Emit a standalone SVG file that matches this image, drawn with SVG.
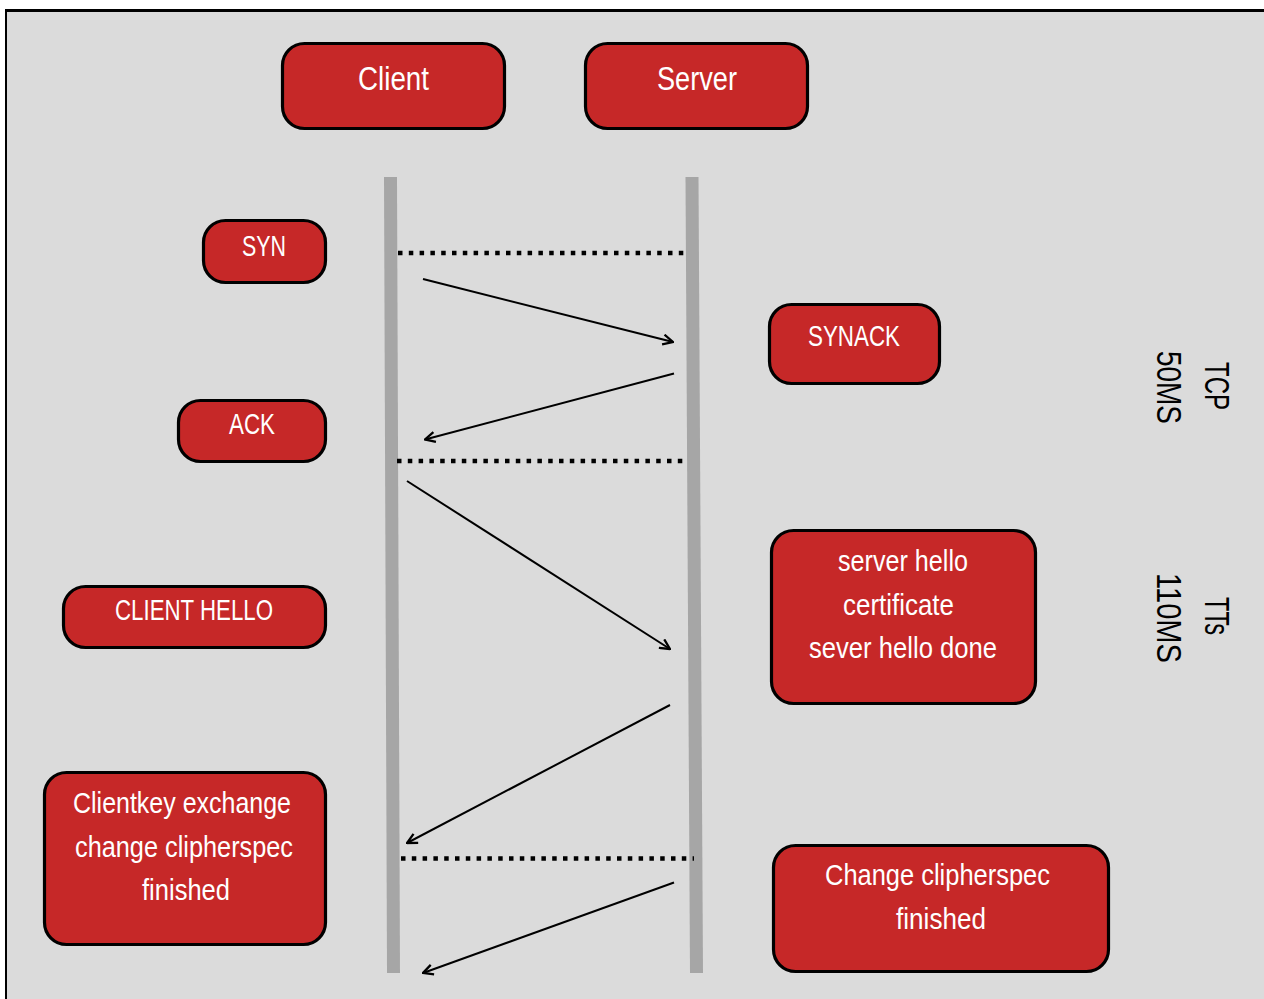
<svg xmlns="http://www.w3.org/2000/svg" width="1264" height="999" viewBox="0 0 1264 999">
<defs>
<style>
.node{fill:#c62828;stroke:#000;stroke-width:3.2}
.t{fill:#fff;font-family:"Liberation Sans Narrow","Liberation Sans",Arial,sans-serif;text-anchor:middle}
.side{fill:#000;font-family:"Liberation Sans Narrow","Liberation Sans",Arial,sans-serif;text-anchor:middle;font-size:35px}
.life{stroke:#a6a6a6;stroke-width:13;fill:none}
.dot{stroke:#000;stroke-width:4.5;stroke-dasharray:4.5 6.3;fill:none}
.msg{stroke:#000;stroke-width:2;fill:none;marker-end:url(#ah)}
</style>
<marker id="ah" viewBox="0 0 12 12" refX="11" refY="6" markerWidth="12" markerHeight="12" markerUnits="userSpaceOnUse" orient="auto">
<path d="M1,1 L11,6 L1,11" fill="none" stroke="#000" stroke-width="2.3"/>
</marker>
</defs>
<rect x="6" y="10" width="1258" height="989" fill="#dbdbdb"/>
<path d="M6,999 V10" stroke="#000" stroke-width="2" fill="none"/>
<path d="M5,10.5 H1264" stroke="#000" stroke-width="3" fill="none"/>

<g id="lifelines">
<line class="life" x1="390.5" y1="177" x2="393.5" y2="973"/>
<line class="life" x1="692" y1="177" x2="696.5" y2="973"/>
</g>

<g id="connectors">
<line class="dot" x1="398" y1="253" x2="686" y2="253"/>
<line class="dot" x1="397" y1="461" x2="686" y2="461"/>
<line class="dot" x1="401" y1="858.5" x2="694" y2="858.5"/>
<line class="msg" x1="423" y1="279" x2="673" y2="342"/>
<line class="msg" x1="674" y1="373.5" x2="425" y2="439.5"/>
<line class="msg" x1="407" y1="481" x2="670" y2="649"/>
<line class="msg" x1="670" y1="705" x2="407" y2="843"/>
<line class="msg" x1="674" y1="882.5" x2="423" y2="973"/>
</g>

<g id="client">
<rect class="node" x="282.5" y="43.5" width="222" height="85" rx="22"/>
<text class="t" x="393.5" y="90" font-size="34" textLength="71" lengthAdjust="spacingAndGlyphs">Client</text>
</g>
<g id="server">
<rect class="node" x="585.5" y="43.5" width="222" height="85" rx="22"/>
<text class="t" x="697" y="90" font-size="34" textLength="80" lengthAdjust="spacingAndGlyphs">Server</text>
</g>
<g id="syn">
<rect class="node" x="203.5" y="220.5" width="122" height="62" rx="22"/>
<text class="t" x="264" y="256" font-size="30" textLength="44" lengthAdjust="spacingAndGlyphs">SYN</text>
</g>
<g id="synack">
<rect class="node" x="769.5" y="304.5" width="170" height="79" rx="22"/>
<text class="t" x="854" y="346" font-size="30" textLength="92" lengthAdjust="spacingAndGlyphs">SYNACK</text>
</g>
<g id="ack">
<rect class="node" x="178.5" y="400.5" width="147" height="61" rx="22"/>
<text class="t" x="252" y="434" font-size="30" textLength="46" lengthAdjust="spacingAndGlyphs">ACK</text>
</g>
<g id="client-hello">
<rect class="node" x="63.5" y="586.5" width="262" height="61" rx="22"/>
<text class="t" x="194" y="620" font-size="30" textLength="158" lengthAdjust="spacingAndGlyphs">CLIENT HELLO</text>
</g>
<g id="server-hello">
<rect class="node" x="771.5" y="530.5" width="264" height="173" rx="22"/>
<text class="t" x="903" y="571" font-size="30" textLength="130" lengthAdjust="spacingAndGlyphs">server hello</text>
<text class="t" x="898.5" y="615" font-size="30" textLength="111" lengthAdjust="spacingAndGlyphs">certificate</text>
<text class="t" x="903" y="658" font-size="30" textLength="188" lengthAdjust="spacingAndGlyphs">sever hello done</text>
</g>
<g id="clientkey">
<rect class="node" x="44.5" y="772.5" width="281" height="172" rx="22"/>
<text class="t" x="182" y="813" font-size="30" textLength="218" lengthAdjust="spacingAndGlyphs">Clientkey exchange</text>
<text class="t" x="184" y="857" font-size="30" textLength="218" lengthAdjust="spacingAndGlyphs">change clipherspec</text>
<text class="t" x="186" y="900" font-size="30" textLength="88" lengthAdjust="spacingAndGlyphs">finished</text>
</g>
<g id="change-cipherspec">
<rect class="node" x="773.5" y="845.5" width="335" height="126" rx="22"/>
<text class="t" x="937.5" y="885" font-size="30" textLength="225" lengthAdjust="spacingAndGlyphs">Change clipherspec</text>
<text class="t" x="941" y="929" font-size="30" textLength="90" lengthAdjust="spacingAndGlyphs">finished</text>
</g>

<g id="labels">
<text class="side" transform="translate(1205,386) rotate(90)" textLength="48" lengthAdjust="spacingAndGlyphs">TCP</text>
<text class="side" transform="translate(1157,387.5) rotate(90)" textLength="73" lengthAdjust="spacingAndGlyphs">50MS</text>
<text class="side" transform="translate(1205,616) rotate(90)" textLength="38" lengthAdjust="spacingAndGlyphs">TTs</text>
<text class="side" transform="translate(1157,618) rotate(90)" textLength="90" lengthAdjust="spacingAndGlyphs">110MS</text>
</g>
</svg>
